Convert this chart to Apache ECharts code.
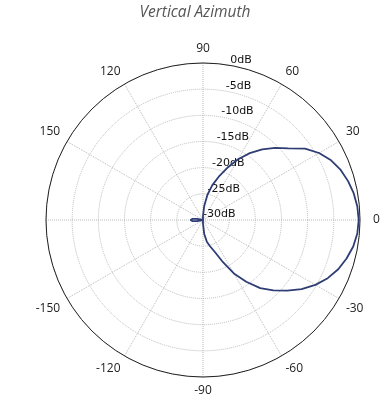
<!DOCTYPE html>
<html><head><meta charset="utf-8">
<script src="https://cdn.jsdelivr.net/npm/echarts@6/dist/echarts.min.js"></script>
<style>html,body{margin:0;padding:0;background:#fff}#c{width:390px;height:416px}</style>
</head><body><div id="c"></div>
<script>
const angleTicks = [0, 30, 60, 90, 120, 150, 180, -150, -120, -90, -60, -30];
const radiusTicks = [-30, -25, -20, -15, -10, -5, 0];
const angles = [0, 5, 10, 15, 20, 25, 30, 35, 40, 45, 50, 55, 60, 65, 70, 75, 80, 85, 90, 95,
  120, 150, 166, 170, 174, 180, -174, -170, -166, -150, -120, -95,
  -90, -85, -80, -75, -70, -65, -60, -55, -50, -45, -40, -35, -30, -25, -20, -15, -10, -5, 0];
const gainDb = [-0.25, -0.4, -0.75, -1.3, -2.0, -3.0, -4.4, -6.2, -8.7, -10.5, -12.4, -14.4, -16.6, -19.0, -21.2, -23.1, -25.1, -27.3, -29.2, -30,
  -30, -30, -30, -28.8, -28.0, -27.6, -28.0, -28.8, -30, -30, -30, -30,
  -29.3, -27.3, -25.8, -24.8, -23.6, -21.3, -18.2, -15.6, -13.0, -11.0, -9.0, -7.0, -5.2, -3.7, -2.5, -1.6, -0.85, -0.4, -0.25];

const chart = echarts.init(document.getElementById('c'), null, {renderer: 'canvas'});
const center = [203, 220];
const R = 157;
const gridStyle = {type: 'dotted', color: '#b8b8b8', width: 1};
chart.setOption({
  animation: false,
  title: {text: 'Vertical Azimuth', left: 'center', top: 0,
    textStyle: {fontFamily: 'Open Sans', fontStyle: 'italic', fontWeight: 'normal', fontSize: 15.5, color: '#555'}},
  polar: [{center: center, radius: R}, {center: center, radius: R}],
  angleAxis: [
    {polarIndex: 0, type: 'value', min: -180, max: 180, interval: 30, startAngle: 180, clockwise: false,
      axisLine: {lineStyle: {color: '#222', width: 1}}, axisTick: {show: false},
      axisLabel: {margin: 8, fontFamily: 'Open Sans', fontSize: 12, color: '#222',
        rich: {z: {fontFamily: 'Open Sans', fontSize: 12, color: '#222', padding: [0, 0, 0, 5]}},
        formatter: v => v === 0 ? '{z|0}' : ((v !== -180 && angleTicks.includes(v)) ? String(v) : '')},
      splitLine: {lineStyle: gridStyle}},
    {polarIndex: 1, type: 'value', min: 0, max: 360, startAngle: 80, show: false}
  ],
  radiusAxis: [
    {polarIndex: 0, type: 'value', min: -30, max: 0, interval: 5,
      axisLine: {show: false}, axisTick: {show: false}, axisLabel: {show: false},
      splitLine: {lineStyle: gridStyle}},
    {polarIndex: 1, type: 'value', min: -30, max: 0, interval: 5,
      axisLine: {show: false}, axisTick: {show: false}, splitLine: {show: false},
      axisLabel: {margin: 0, align: 'left', verticalAlign: 'bottom', fontFamily: 'DejaVu Sans', fontSize: 11, color: '#111',
        formatter: v => radiusTicks.includes(v) ? v + 'dB' : ''}}
  ],
  series: [{type: 'line', coordinateSystem: 'polar', polarIndex: 0,
    data: angles.map((a, i) => [gainDb[i], a]),
    showSymbol: false, smooth: false,
    lineStyle: {color: '#2e3d74', width: 1.8}}]
});
</script></body></html>
